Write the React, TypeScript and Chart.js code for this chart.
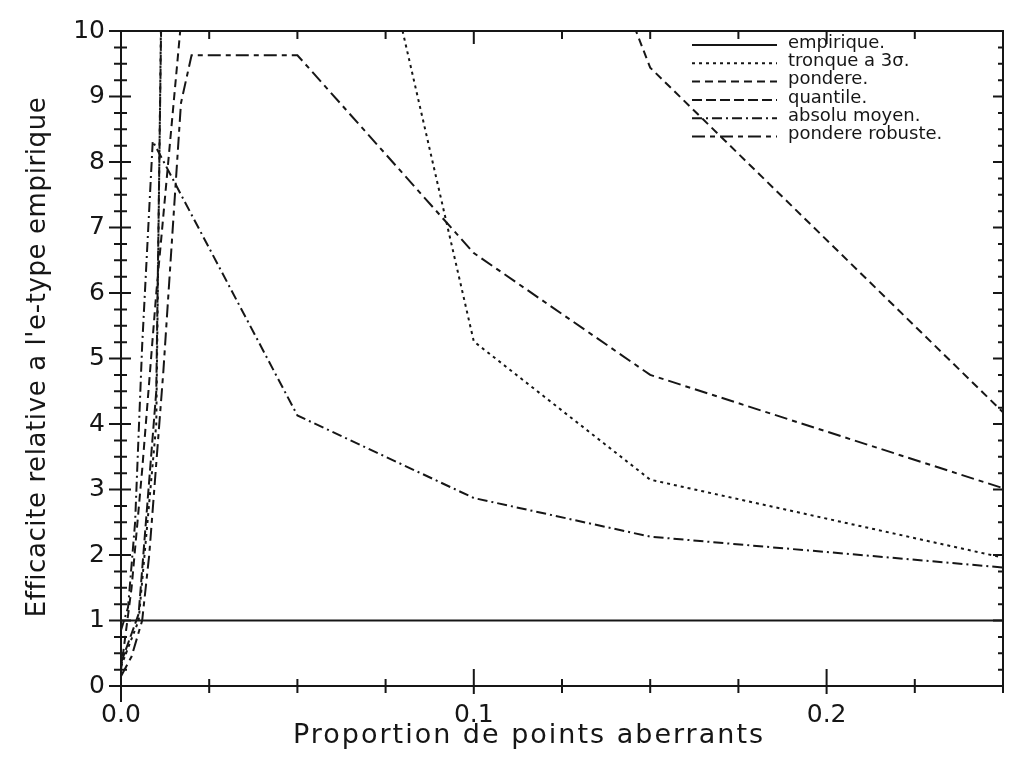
import React, { useEffect, useRef } from 'react';
import { Chart, registerables } from 'chart.js';

Chart.register(...registerables);

// ---------- data ----------
const seriesLabels = ['empirique.', 'tronque a 3σ.', 'pondere.', 'quantile.', 'absolu moyen.', 'pondere robuste.'];

const empiriqueX = [0, 0.25];
const empiriqueY = [1.0, 1.0];
const tronqueX = [0, 0.005, 0.01, 0.02, 0.05, 0.1, 0.15, 0.25];
const tronqueY = [0.3, 1.0, 4.0, 50, 17, 5.26, 3.15, 1.96];
const pondereX = [0, 0.003, 0.006, 0.01, 0.02, 0.05, 0.1, 0.15, 0.25];
const pondereY = [0.25, 1.5, 3.3, 6.0, 11.9, 22, 16.4, 9.44, 4.18];
const quantileX = [0, 0.005, 0.01, 0.02, 0.05, 0.1, 0.15, 0.25];
const quantileY = [0.35, 1.1, 4.5, 45, 60, 40, 25, 14];
const absoluX = [0, 0.002, 0.004, 0.006, 0.009, 0.05, 0.1, 0.15, 0.25];
const absoluY = [0.85, 1.2, 2.5, 5.2, 8.32, 4.13, 2.87, 2.28, 1.81];
const robusteX = [0, 0.003, 0.006, 0.008, 0.012, 0.017, 0.02, 0.05, 0.1, 0.15, 0.25];
const robusteY = [0.15, 0.45, 1.0, 2.0, 4.8, 8.9, 9.63, 9.63, 6.61, 4.75, 3.02];

const xMin = 0;
const xMax = 0.25;
const yMin = 0;
const yMax = 10;
const xLabelStep = 0.1;
const yLabelStep = 1;
const xMarkStep = 0.025;
const yMarkStep = 0.25;

const xTitle = 'Proportion de points aberrants';
const yTitle = "Efficacite relative a l'e-type empirique";

// ---------- styles ----------
const FONT = "'DejaVu Sans', sans-serif";
const INK = '#161616';
const dashes: number[][] = [[], [3, 4], [8, 5], [10, 4], [10, 4, 2, 4], [13, 5, 5, 5]];

const zip = (xs: number[], ys: number[]) => xs.map((x, i) => ({ x, y: ys[i] }));

const framePlugin = {
  id: 'frameTicks',
  afterDraw(chart: any) {
    const ctx = chart.ctx;
    const { left, right, top, bottom } = chart.chartArea;
    const xs = chart.scales.x;
    const ys = chart.scales.y;
    ctx.save();
    ctx.strokeStyle = INK;
    ctx.lineWidth = 2;
    ctx.setLineDash([]);
    // frame
    ctx.beginPath();
    ctx.moveTo(left, top);
    ctx.lineTo(right, top);
    ctx.lineTo(right, bottom);
    ctx.moveTo(left, top);
    ctx.lineTo(left, bottom + 16);
    ctx.moveTo(left, bottom);
    ctx.lineTo(right, bottom);
    ctx.stroke();
    // x ticks (bottom and top)
    const nx = Math.round((xMax - xMin) / xMarkStep);
    for (let i = 1; i <= nx; i++) {
      const v = xMin + i * xMarkStep;
      const px = xs.getPixelForValue(v);
      const major = Math.abs(v / xLabelStep - Math.round(v / xLabelStep)) < 1e-6;
      ctx.beginPath();
      if (major) {
        ctx.moveTo(px, bottom - 17);
        ctx.lineTo(px, bottom + 8);
        ctx.moveTo(px, top);
        ctx.lineTo(px, top + 13);
      } else {
        ctx.moveTo(px, bottom - 7);
        ctx.lineTo(px, bottom + 7);
        ctx.moveTo(px, top);
        ctx.lineTo(px, top + 8);
      }
      ctx.stroke();
    }
    // y ticks (left crossing, right inward)
    const ny = Math.round((yMax - yMin) / yMarkStep);
    for (let i = 0; i <= ny; i++) {
      const v = yMin + i * yMarkStep;
      const py = ys.getPixelForValue(v);
      const major = Math.abs(v / yLabelStep - Math.round(v / yLabelStep)) < 1e-6;
      ctx.beginPath();
      if (major) {
        ctx.moveTo(left - 12, py);
        ctx.lineTo(left + 10, py);
        ctx.moveTo(right, py);
        ctx.lineTo(right - 10, py);
      } else {
        ctx.moveTo(left - 7, py);
        ctx.lineTo(left + 6, py);
        ctx.moveTo(right, py);
        ctx.lineTo(right - 5, py);
      }
      ctx.stroke();
    }
    ctx.restore();

    // axis titles
    ctx.save();
    ctx.fillStyle = INK;
    ctx.textAlign = 'center';
    ctx.textBaseline = 'alphabetic';
    ctx.font = `27px ${FONT}`;
    (ctx as any).letterSpacing = '2px';
    ctx.fillText(xTitle, 529, 743);
    ctx.font = `26px ${FONT}`;
    (ctx as any).letterSpacing = '0.6px';
    ctx.translate(45, 357);
    ctx.rotate(-Math.PI / 2);
    ctx.fillText(yTitle, 0, 0);
    ctx.restore();

    // legend
    ctx.save();
    ctx.font = `18px ${FONT}`;
    ctx.fillStyle = INK;
    ctx.textAlign = 'left';
    ctx.textBaseline = 'middle';
    chart.data.datasets.forEach((ds: any, i: number) => {
      const y = 43 + i * 18.3;
      ctx.strokeStyle = INK;
      ctx.lineWidth = 2;
      ctx.setLineDash(ds.borderDash || []);
      ctx.beginPath();
      ctx.moveTo(692, y + 2);
      ctx.lineTo(777, y + 2);
      ctx.stroke();
      ctx.setLineDash([]);
      ctx.fillText(ds.label, 788, y);
    });
    ctx.restore();
  },
};

export default function App() {
  const ref = useRef<HTMLCanvasElement | null>(null);

  useEffect(() => {
    if (!ref.current) return;
    const seriesData = [
      zip(empiriqueX, empiriqueY),
      zip(tronqueX, tronqueY),
      zip(pondereX, pondereY),
      zip(quantileX, quantileY),
      zip(absoluX, absoluY),
      zip(robusteX, robusteY),
    ];
    const chart = new Chart(ref.current, {
      type: 'line',
      data: {
        datasets: seriesData.map((d, i) => ({
          label: seriesLabels[i],
          data: d,
          borderColor: INK,
          borderWidth: 2,
          borderDash: dashes[i],
          pointRadius: 0,
          tension: 0,
          fill: false,
        })),
      },
      options: {
        animation: false,
        responsive: false,
        layout: { padding: { top: 18, right: 10, left: 0, bottom: 0 } },
        plugins: { legend: { display: false }, tooltip: { enabled: false } },
        scales: {
          x: {
            type: 'linear',
            min: xMin,
            max: xMax,
            grid: { display: false, drawTicks: false },
            border: { display: false },
            ticks: {
              stepSize: xLabelStep,
              includeBounds: false,
              autoSkip: false,
              maxRotation: 0,
              padding: 14,
              color: INK,
              font: { family: FONT, size: 25 },
              callback: (v: any) => Number(v).toFixed(1),
            },
            afterFit: (s: any) => {
              s.height = 72;
            },
          },
          y: {
            type: 'linear',
            min: yMin,
            max: yMax,
            grid: { display: false, drawTicks: false },
            border: { display: false },
            ticks: {
              stepSize: yLabelStep,
              autoSkip: false,
              padding: 16,
              color: INK,
              font: { family: FONT, size: 25 },
              callback: (v: any) => String(Math.round(Number(v))),
            },
            afterFit: (s: any) => {
              s.width = 121;
            },
          },
        },
      },
      plugins: [framePlugin],
    });
    return () => chart.destroy();
  }, []);

  return (
    <div style={{ position: 'fixed', left: 0, top: 0, width: 1013, height: 758, background: '#fff' }}>
      <canvas ref={ref} width={1013} height={758} />
    </div>
  );
}
